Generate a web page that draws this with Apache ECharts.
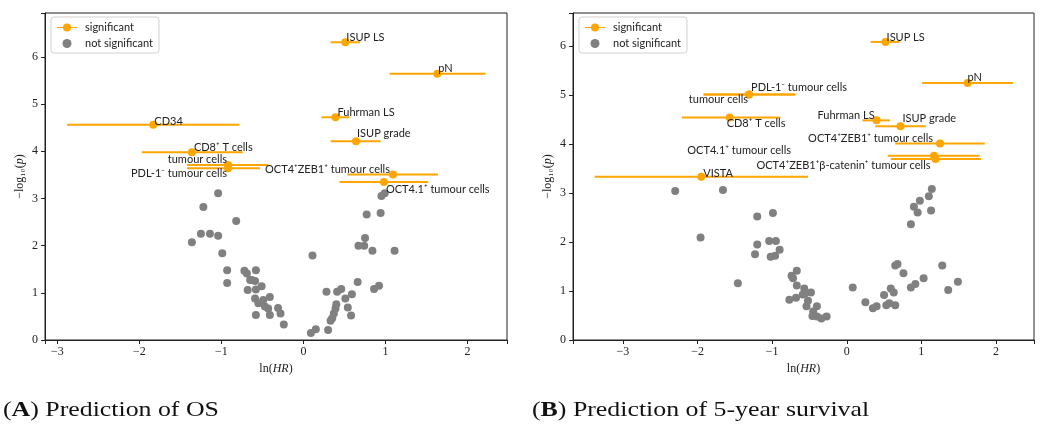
<!DOCTYPE html>
<html>
<head>
<meta charset="utf-8">
<script src="https://cdn.jsdelivr.net/npm/echarts@6/dist/echarts.min.js"></script>
<style>
  html, body { margin: 0; padding: 0; background: #fff; }
  #chart { width: 1043px; height: 430px; }
</style>
</head>
<body>
<div id="chart"></div>
<script>
// (A) OS - significant markers
const osSigNames = ['CD34', 'CD8⁺ T cells', 'tumour cells', 'PDL-1⁻ tumour cells', 'ISUP LS', 'pN', 'Fuhrman LS', 'ISUP grade', 'OCT4⁺ZEB1⁺ tumour cells', 'OCT4.1⁺ tumour cells']
const osSigLnHR = [-1.83, -1.36, -0.92, -0.92, 0.51, 1.63, 0.39, 0.64, 1.09, 0.98]
const osSigLogP = [4.56, 3.98, 3.71, 3.64, 6.31, 5.64, 4.72, 4.21, 3.51, 3.35]
const osSigLo = [-2.88, -1.97, -1.42, -1.42, 0.33, 1.05, 0.22, 0.33, 0.53, 0.44]
const osSigHi = [-0.78, -0.74, -0.43, -0.53, 0.69, 2.22, 0.56, 0.94, 1.64, 1.52]

// (A) OS - not significant
const osNsLnHR = [-1.04, -1.22, -0.82, -1.36, -1.25, -1.14, -1.04, -0.99, -0.93, -0.93, -0.72, -0.69, -0.58, -0.65, -0.59, -0.68, -0.58, -0.59, -0.55, -0.58, -0.63, -0.51, -0.49, -0.41, -0.47, -0.43, -0.31, -0.41, -0.28, -0.24, 0.11, 0.09, 0.15, 0.30, 0.28, 0.41, 0.46, 0.51, 0.59, 0.54, 0.58, 0.40, 0.39, 0.37, 0.35, 0.33, 0.66, 0.86, 0.92, 0.67, 0.74, 0.75, 0.84, 1.11, 0.77, 0.94, 0.95, 0.99]
const osNsLogP = [3.11, 2.82, 2.52, 2.07, 2.25, 2.25, 2.21, 1.84, 1.48, 1.21, 1.47, 1.41, 1.48, 1.27, 1.25, 1.06, 1.07, 0.88, 0.78, 0.53, 1.27, 1.14, 0.85, 0.91, 0.71, 0.67, 0.68, 0.53, 0.56, 0.33, 1.79, 0.15, 0.23, 0.21, 1.02, 1.02, 1.08, 0.88, 0.97, 0.69, 0.52, 0.76, 0.67, 0.56, 0.46, 0.41, 1.23, 1.08, 1.15, 2.00, 2.00, 2.16, 1.89, 1.89, 2.66, 2.69, 3.05, 3.11]

// (B) 5-year survival - significant markers
const fySigNames = ['PDL-1⁻ tumour cells', 'tumour cells', 'CD8⁺ T cells', 'VISTA', 'ISUP LS', 'pN', 'Fuhrman LS', 'ISUP grade', 'OCT4⁺ZEB1⁺ tumour cells', 'OCT4.1⁺ tumour cells', 'OCT4⁺ZEB1⁺β-catenin⁺ tumour cells']
const fySigLnHR = [-1.31, -1.31, -1.57, -1.95, 0.52, 1.62, 0.40, 0.72, 1.25, 1.17, 1.19]
const fySigLogP = [5.01, 5.01, 4.54, 3.33, 6.08, 5.24, 4.48, 4.36, 4.01, 3.76, 3.69]
const fySigLo = [-1.92, -1.92, -2.21, -3.38, 0.32, 1.01, 0.21, 0.38, 0.65, 0.55, 0.59]
const fySigHi = [-0.69, -0.69, -0.89, -0.52, 0.71, 2.23, 0.58, 1.06, 1.85, 1.78, 1.80]

// (B) 5-year survival - not significant
const fyNsLnHR = [-2.30, -1.66, -1.96, -1.46, -1.20, -0.99, -1.20, -1.04, -0.95, -1.23, -1.02, -0.96, -0.90, -0.74, -0.67, -0.72, -0.67, -0.77, -0.68, -0.57, -0.56, -0.48, -0.59, -0.52, -0.54, -0.40, -0.45, -0.46, -0.40, -0.34, -0.27, 0.08, 0.25, 0.35, 0.40, 0.50, 0.59, 0.63, 0.53, 0.57, 0.65, 0.65, 0.68, 0.76, 0.86, 0.92, 1.03, 1.28, 1.36, 1.49, 0.86, 0.90, 0.95, 0.98, 1.10, 1.14, 1.13]
const fyNsLogP = [3.04, 3.06, 2.09, 1.16, 2.52, 2.59, 1.95, 2.02, 2.02, 1.75, 1.70, 1.72, 1.84, 1.31, 1.41, 1.26, 1.11, 0.82, 0.86, 1.05, 0.95, 0.97, 0.93, 0.80, 0.69, 0.69, 0.58, 0.49, 0.48, 0.44, 0.48, 1.07, 0.77, 0.65, 0.69, 0.92, 1.05, 0.97, 0.71, 0.75, 0.71, 1.52, 1.55, 1.36, 1.07, 1.14, 1.26, 1.52, 1.02, 1.19, 2.36, 2.72, 2.60, 2.84, 2.93, 3.08, 2.64]

// label placement (px offset from the point, text alignment)
const osLabelPos = [[1, 2, 'left'], [2, 1, 'left'], [-1, 0, 'right'], [-1, 11, 'right'], [1, 1, 'left'], [1, 0, 'left'], [2, 1, 'left'], [1, -2, 'left'], [-3, 1, 'right'], [2, 13, 'left']]
const fyLabelPos = [[2, -1, 'left'], [-1, 11, 'right'], [-3, 12, 'left'], [2, 2, 'left'], [1, 1, 'left'], [0, 0, 'left'], [-2, 1, 'right'], [2, -2, 'left'], [-7, 1, 'right'], [-143, 0, 'right'], [-5, 12, 'right']]

const ORANGE = '#FFA500'
const GREY = '#808080'
const SANS = 'Lato, "DejaVu Sans", sans-serif'
const SERIF = '"Liberation Serif", "DejaVu Serif", serif'

// only whole numbers get a label, with a real minus sign
const fmtTick = (v) => {
  if (Math.abs(v - Math.round(v)) > 1e-6) return ''
  return v < 0 ? '\u2212' + Math.abs(v) : String(v)
}

const makeAxes = (i, xmin, xmax, ymax) => ({
  x: {
    type: 'value', gridIndex: i, min: xmin, max: xmax,
    minInterval: 1, maxInterval: 1,
    name: 'ln({i|HR})', nameLocation: 'middle', nameGap: 23,
    nameTextStyle: { fontFamily: SERIF, fontSize: 12, color: '#222', rich: { i: { fontFamily: SERIF, fontStyle: 'italic', fontSize: 12, color: '#222' } } },
    axisLine: { show: true, onZero: false, lineStyle: { color: '#222', width: 1 } },
    axisTick: { show: true, length: 4, lineStyle: { color: '#222' } },
    axisLabel: { formatter: fmtTick, fontFamily: SERIF, fontSize: 12, color: '#222', margin: 6 },
    splitLine: { show: false }
  },
  y: {
    type: 'value', gridIndex: i, min: 0, max: ymax,
    minInterval: 1, maxInterval: 1,
    name: '\u2212log₁₀({i|p})', nameLocation: 'middle', nameGap: 19, nameRotate: 90,
    nameTextStyle: { fontFamily: SERIF, fontSize: 12, color: '#222', rich: { i: { fontFamily: SERIF, fontStyle: 'italic', fontSize: 12, color: '#222' } } },
    axisLine: { show: true, onZero: false, lineStyle: { color: '#222', width: 1 } },
    axisTick: { show: true, length: 4, lineStyle: { color: '#222' } },
    axisLabel: { formatter: fmtTick, fontFamily: SERIF, fontSize: 12, color: '#222', margin: 7 },
    splitLine: { show: false }
  }
})

// horizontal error bar from lo to hi
const errRender = (params, api) => {
  const y = api.value(1)
  const a = api.coord([api.value(2), y])
  const b = api.coord([api.value(3), y])
  return {
    type: 'line',
    shape: { x1: a[0], y1: a[1], x2: b[0], y2: b[1] },
    style: { stroke: ORANGE, lineWidth: 2 }
  }
}

const sigData = (names, xs, ys, pos) => names.map((n, k) => ({
  name: n,
  value: [xs[k], ys[k]],
  label: {
    show: true,
    formatter: n,
    position: [4 + pos[k][0], 4 + pos[k][1]],
    align: pos[k][2],
    verticalAlign: 'bottom'
  }
}))

const panelSeries = (i, names, xs, ys, lo, hi, nsx, nsy, pos) => [
  {
    name: 'errbar' + i, type: 'custom', xAxisIndex: i, yAxisIndex: i,
    renderItem: errRender,
    encode: { x: [0, 2, 3], y: 1 },
    data: xs.map((x, k) => [x, ys[k], lo[k], hi[k]]),
    silent: true, z: 2
  },
  {
    name: 'not significant', type: 'scatter', xAxisIndex: i, yAxisIndex: i,
    symbolSize: 8, itemStyle: { color: GREY, opacity: 1 },
    data: nsx.map((x, k) => [x, nsy[k]]), z: 3
  },
  {
    name: 'significant', type: 'scatter', xAxisIndex: i, yAxisIndex: i,
    symbolSize: 8, itemStyle: { color: ORANGE, opacity: 1 },
    label: { fontFamily: SANS, fontSize: 11, color: '#222' },
    data: sigData(names, xs, ys, pos), z: 4
  }
]

const legendFor = (left) => ({
  orient: 'vertical', left: left, top: 17,
  backgroundColor: '#fff', borderColor: '#d0d0d0', borderWidth: 1, borderRadius: 3,
  padding: [5, 6, 4, 6], itemGap: 5, itemWidth: 20, itemHeight: 9,
  textStyle: { fontFamily: SANS, fontSize: 11, color: '#222', padding: [0, 0, 0, 3] },
  data: [
    { name: 'significant', icon: 'path://M0,3.4H20V4.6H0Z M10,0A4,4 0 1 1 10,8A4,4 0 1 1 10,0Z', itemStyle: { color: ORANGE } },
    { name: 'not significant', icon: 'circle', itemStyle: { color: GREY } }
  ]
})

const caption = (x, letter, rest) => ({
  type: 'text', x: x, y: 400, scaleX: 1.23,
  style: {
    text: '({b|' + letter + '}) ' + rest,
    font: '21px "Liberation Serif"', fill: '#111',
    rich: { b: { fontFamily: 'Liberation Serif', fontSize: 21, fontWeight: 'bold', fill: '#111' } }
  }
})

const axA = makeAxes(0, -3.15, 2.48, 6.93)
const axB = makeAxes(1, -3.67, 2.51, 6.67)

const option = {
  animation: false,
  grid: [
    { left: 45, top: 13, width: 462, height: 327, show: true, borderColor: '#222', borderWidth: 1 },
    { left: 573, top: 13, width: 461, height: 327, show: true, borderColor: '#222', borderWidth: 1 }
  ],
  xAxis: [axA.x, axB.x],
  yAxis: [axA.y, axB.y],
  legend: [legendFor(51), legendFor(579)],
  series: [
    ...panelSeries(0, osSigNames, osSigLnHR, osSigLogP, osSigLo, osSigHi, osNsLnHR, osNsLogP, osLabelPos),
    ...panelSeries(1, fySigNames, fySigLnHR, fySigLogP, fySigLo, fySigHi, fyNsLnHR, fyNsLogP, fyLabelPos)
  ],
  graphic: [
    caption(3, 'A', 'Prediction of OS'),
    caption(532, 'B', 'Prediction of 5-year survival')
  ]
}

const chartInstance = echarts.init(document.getElementById('chart'))
chartInstance.setOption(option)
</script>
</body>
</html>
